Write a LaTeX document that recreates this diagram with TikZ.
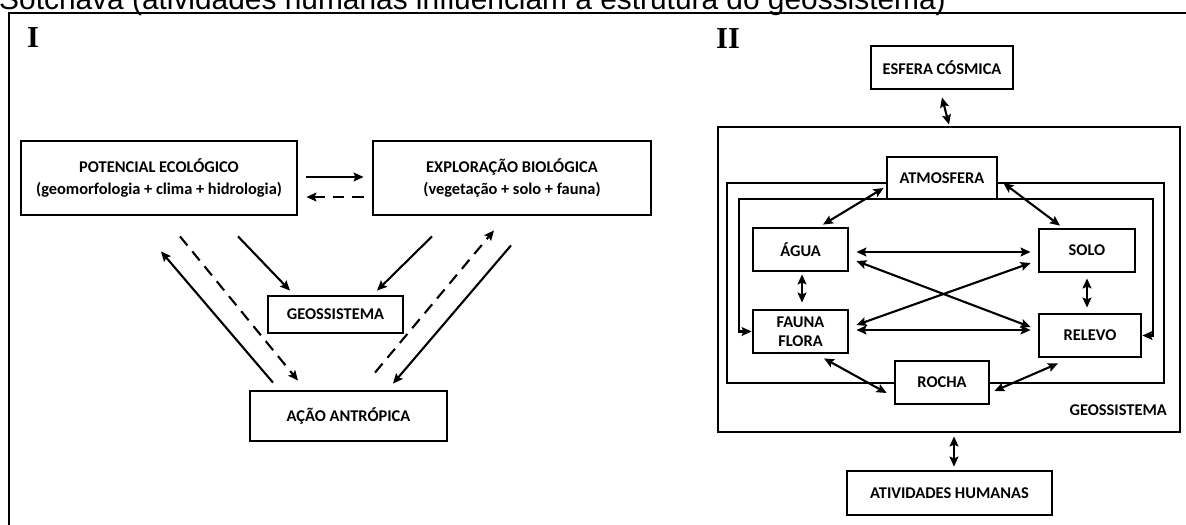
\documentclass[tikz,border=0pt]{standalone}
\usepackage{fontspec}
\setmainfont{Carlito}
\newfontfamily\titlefont{Liberation Sans}
\newfontfamily\numfont{Liberation Serif}
\usetikzlibrary{arrows.meta,calc,fit}

\begin{document}
\begin{tikzpicture}[x=0.03cm,y=-0.03cm,
  bx/.style={draw, line width=2.4pt, fill=white, inner sep=0pt, align=center,
    font=\fontsize{14}{18.7}\selectfont\bfseries},
  arr/.style={line width=1.8pt, -{Stealth[length=8.5pt,width=7.5pt,inset=1.5pt]}},
  dbl/.style={line width=1.8pt, {Stealth[length=8.5pt,width=7.5pt,inset=1.5pt]}-{Stealth[length=8.5pt,width=7.5pt,inset=1.5pt]}},
  dsh/.style={arr, dash pattern=on 10pt off 6.5pt},
  lbl/.style={inner sep=0pt, font=\fontsize{14}{18.7}\selectfont\bfseries},
  roman/.style={inner sep=0pt, anchor=base west, font=\numfont\bfseries\fontsize{26}{30}\selectfont},
]
\useasboundingbox (0,0) rectangle (1186,524);
\clip (0,0) rectangle (1186,524);

% heading line and frame
\node[anchor=base west, inner sep=0pt, font=\titlefont\fontsize{25.5}{30}\selectfont] (title) at (-1,9)
  {Sotchava (atividades humanas influenciam a estrutura do geossistema)};
\coordinate (fbl) at (9,530);
\coordinate (ftl) at (9,13);
\coordinate (ftr) at (1192,13);
\draw[line width=1.7pt] (fbl) -- (ftl) -- (ftr);

% ---------------- panel I ----------------
\node[roman] (pI) at (27,47) {I};

\node[bx, fit={(21,141)(297,215)}] (pot) {};
\node[lbl, align=center] at (pot.center) {POTENCIAL ECOLÓGICO\\(geomorfologia + clima + hidrologia)};
\node[bx, fit={(373,141)(651,215)}] (exp) {};
\node[lbl, align=center] at (exp.center) {EXPLORAÇÃO BIOLÓGICA\\(vegetação + solo + fauna)};
\node[bx, fit={(268,296)(403,333)}, label={[lbl]center:GEOSSISTEMA}] (geo) {};
\node[bx, fit={(250,391)(447,441)}, label={[lbl]center:AÇÃO ANTRÓPICA}] (aca) {};

\draw[arr] ($(pot.east)+(8,-1)$) -- ($(exp.west)+(-8,-1)$);
\draw[dsh] ($(exp.west)+(-8,19)$) -- ($(pot.east)+(8,19)$);

\draw[arr] ($(pot.south)+(79,20)$) -- ($(geo.north)+(-45.5,-4)$);
\draw[arr] ($(exp.south)+(-80,20)$) -- ($(geo.north)+(41.5,-4)$);

\draw[arr] ($(aca.north)+(-75.5,-7)$) -- ($(pot.south)+(2,35)$);
\draw[dsh] ($(pot.south)+(21,20)$) -- ($(aca.north)+(-50.5,-9)$);
\draw[dsh] ($(aca.north)+(26.5,-17)$) -- ($(exp.south)+(-18,14)$);
\draw[arr] ($(exp.south)+(-1,29)$) -- ($(aca.north)+(44.5,-6)$);

% ---------------- panel II ----------------
\node[roman] (pII) at (716,48) {II};

\node[bx, fit={(871,46)(1013,89)}, label={[lbl]center:ESFERA CÓSMICA}] (esf) {};
\node[bx, fill=none, fit={(718,127)(1180,432)}] (geoout) {};
\node[lbl, anchor=east] (geolbl) at (1167,410) {GEOSSISTEMA};

% closed ring behind the boxes
\coordinate (rtl) at (727,183);
\coordinate (rbr) at (1164,383);
\draw[line width=2.4pt] (rtl) rectangle (rbr);

\node[bx, fit={(753,228)(848,271)}, label={[lbl]center:ÁGUA}] (agua) {};
\node[bx, fit={(1039,229)(1135,272)}, label={[lbl]center:SOLO}] (solo) {};
\node[bx, fit={(753,310)(848,353)}] (fauna) {};
\node[lbl, align=center, font=\fontsize{14}{16}\selectfont\bfseries] at (fauna.center) {FAUNA\\FLORA};
\node[bx, fit={(1039,314)(1141,357)}, label={[lbl]center:RELEVO}] (relevo) {};

% inner loop from the atmosphere down to the living layer and the relief
\coordinate (lupl) at (739,331.5);
\coordinate (lupr) at (1153,335.5);
\draw[arr, line width=2.2pt] (942,199) -| (lupl) -- (fauna.west);
\draw[arr, line width=2.2pt] (942,199) -| (lupr) -- (relevo.east);

\node[bx, fit={(887,157)(997,199)}, label={[lbl]center:ATMOSFERA}] (atm) {};
\node[bx, fit={(895,361)(989,404)}, label={[lbl]center:ROCHA}] (rocha) {};
\node[bx, fit={(847,471)(1052,515)}, label={[lbl]center:ATIVIDADES HUMANAS}] (ativ) {};

\draw[dbl] ($(esf.south)+(0,7)$) -- ($(geoout.north)+(0,-1)$);
\draw[dbl] ($(geoout.south)+(5,3)$) -- ($(ativ.north)+(4.5,-3)$);

\draw[dbl] ($(atm.west)+(-2,10)$) -- ($(agua.north)+(22.5,-2)$);
\draw[dbl] ($(atm.east)+(5,5)$) -- ($(solo.north)+(-27,-2)$);
\draw[dbl] ($(agua.east)+(7,2.5)$) -- ($(solo.west)+(-7,1.5)$);
\draw[dbl] ($(agua.east)+(7,11.5)$) -- ($(relevo.west)+(-7,-8.5)$);
\draw[dbl] ($(fauna.east)+(7,-6.5)$) -- ($(solo.west)+(-7,12.5)$);
\draw[dbl] ($(fauna.east)+(7,-1.5)$) -- ($(relevo.west)+(-7,-5.5)$);
\draw[dbl] ($(agua.south)+(1.5,2)$) -- ($(fauna.north)+(1.5,-6)$);
\draw[dbl] ($(solo.south)+(0,5)$) -- ($(relevo.north)+(-3,-5)$);
\draw[dbl] ($(fauna.south)+(23.5,4)$) -- ($(rocha.west)+(-7,10.5)$);
\draw[dbl] ($(relevo.south)+(-32,5)$) -- ($(rocha.east)+(4,8.5)$);
\end{tikzpicture}
\end{document}
